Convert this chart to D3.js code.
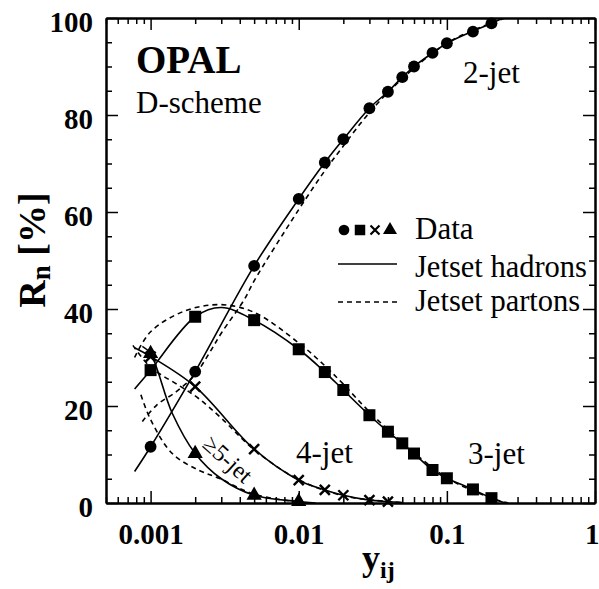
<!DOCTYPE html>
<html>
<head>
<meta charset="utf-8">
<script src="https://cdn.jsdelivr.net/npm/d3@7"></script>
<style>
  body { margin: 0; background: #fff; }
  text { font-family: "Liberation Serif", "Times New Roman", serif; fill: #000; }
</style>
</head>
<body>
<div id="chart"></div>
<script>
"use strict";

// measured points (y_cut, R_n in %)
const ycutData = [0.001, 0.002, 0.005, 0.01, 0.015, 0.02, 0.03, 0.04, 0.05, 0.06, 0.08, 0.1, 0.15, 0.2];
const data2jet = [11.6, 27.1, 48.9, 62.7, 70.2, 75.0, 81.4, 84.8, 87.8, 90.0, 92.8, 94.8, 97.2, 98.9];
const data3jet = [27.4, 38.4, 37.7, 31.7, 27.0, 23.3, 18.1, 14.7, 12.3, 10.2, 6.8, 5.1, 2.8, 1.0];
const ycut4jet = [0.001, 0.002, 0.005, 0.01, 0.015, 0.02, 0.03, 0.04];
const data4jet = [30.2, 24.0, 11.1, 4.7, 2.7, 1.6, 0.6, 0.3];
const ycut5jet = [0.001, 0.002, 0.005, 0.01];
const data5jet = [30.8, 10.2, 1.6, 0.3];

// Jetset hadrons (solid)
const had2X = [0.00078, 0.001, 0.002, 0.005, 0.01, 0.015, 0.02, 0.03, 0.04, 0.05, 0.06, 0.08, 0.1, 0.15, 0.2, 0.24];
const had2Y = [6.5, 11.6, 27.1, 48.9, 62.7, 70.2, 75.0, 81.4, 84.8, 87.8, 90.0, 92.8, 94.8, 97.3, 98.9, 100];
const had3X = [0.00078, 0.001, 0.002, 0.003, 0.005, 0.01, 0.015, 0.02, 0.03, 0.04, 0.05, 0.06, 0.08, 0.1, 0.15, 0.2, 0.25];
const had3Y = [23.5, 27.4, 38.4, 40.3, 37.7, 31.7, 27.0, 23.3, 18.1, 14.7, 12.3, 10.2, 6.8, 5.1, 2.8, 1.0, 0];
const had4X = [0.00078, 0.001, 0.002, 0.005, 0.01, 0.015, 0.02, 0.03, 0.04, 0.05];
const had4Y = [32.0, 30.2, 24.0, 11.1, 4.7, 2.7, 1.6, 0.6, 0.3, 0.1];
const had5X = [0.00088, 0.001, 0.0014, 0.002, 0.003, 0.005, 0.01, 0.013];
const had5Y = [32.3, 30.8, 18.5, 10.2, 5.0, 1.6, 0.3, 0];

// Jetset partons (dashed)
const par2X = [0.00088, 0.0011, 0.0015, 0.002, 0.0025, 0.003, 0.0043, 0.005, 0.01, 0.015, 0.02, 0.03, 0.05, 0.1, 0.2, 0.25];
const par2Y = [16.8, 20.2, 23.0, 26.5, 31.0, 35.0, 42.0, 45.8, 60.5, 68.5, 73.6, 80.5, 87.5, 94.8, 99.0, 100];
const par3X = [0.00078, 0.001, 0.0017, 0.003, 0.005, 0.01, 0.015, 0.02, 0.03, 0.05, 0.1, 0.2, 0.26];
const par3Y = [30.0, 35.3, 39.6, 40.9, 39.3, 33.0, 28.3, 24.5, 18.8, 12.5, 5.2, 1.0, 0];
const par4X = [0.00076, 0.001, 0.0016, 0.0021, 0.003, 0.005, 0.01, 0.02, 0.04, 0.05];
const par4Y = [32.5, 28.0, 24.0, 21.6, 17.5, 11.0, 4.8, 1.5, 0.3, 0.1];
const par5X = [0.00086, 0.001, 0.0014, 0.0021, 0.0029, 0.005, 0.01];
const par5Y = [22.3, 17.2, 10.2, 6.8, 5.1, 1.8, 0.2];

// axis ticks
const xMajor = [0.001, 0.01, 0.1, 1];
const xLabels = ["0.001", "0.01", "0.1", "1"];
const yMajor = [0, 20, 40, 60, 80, 100];

// graph size and margins
const W = 599, H = 589;
const margin = { left: 106, top: 18, right: 4, bottom: 86 },
      w = W - margin.left - margin.right,
      h = H - margin.top - margin.bottom;

const svg = d3.select("#chart")
  .append("svg")
    .attr("width", W)
    .attr("height", H);

const chart = svg.append("g")
    .attr("transform", "translate(" + margin.left + "," + margin.top + ")");

const x = d3.scaleLog().domain([0.0005, 1]).range([0, w]),
      y = d3.scaleLinear().domain([0, 100]).range([h, 0]);

const xMinor = x.ticks().filter(function(v) { return xMajor.indexOf(v) < 0; });
const yMinor = d3.range(0, 101, 5).filter(function(v) { return v % 20 !== 0; });

chart.append("clipPath").attr("id", "plot-clip")
  .append("rect").attr("width", w).attr("height", h);

// axes: ticks point inward on all four sides
function styleAxis(g) {
  g.selectAll(".tick line").attr("stroke", "#000").attr("stroke-width", 1.5);
  g.select(".domain").attr("stroke", "#000").attr("stroke-width", 2);
}

chart.append("g")
    .attr("transform", "translate(0," + h + ")")
    .call(d3.axisBottom(x).tickValues(xMinor).tickFormat("").tickSize(-6).tickSizeOuter(0))
    .call(styleAxis);
chart.append("g")
    .attr("class", "x-major")
    .attr("transform", "translate(0," + h + ")")
    .call(d3.axisBottom(x).tickValues(xMajor)
      .tickFormat(function(d, i) { return xLabels[i]; })
      .tickSize(-12).tickSizeOuter(0).tickPadding(20))
    .call(styleAxis);
chart.append("g")
    .call(d3.axisTop(x).tickValues(xMinor).tickFormat("").tickSize(-6).tickSizeOuter(0))
    .call(styleAxis);
chart.append("g")
    .call(d3.axisTop(x).tickValues(xMajor).tickFormat("").tickSize(-12).tickSizeOuter(0))
    .call(styleAxis);

chart.append("g")
    .call(d3.axisLeft(y).tickValues(yMinor).tickFormat("").tickSize(-6).tickSizeOuter(0))
    .call(styleAxis);
chart.append("g")
    .attr("class", "y-major")
    .call(d3.axisLeft(y).tickValues(yMajor).tickSize(-12).tickSizeOuter(0).tickPadding(13))
    .call(styleAxis);
chart.append("g")
    .attr("transform", "translate(" + w + ",0)")
    .call(d3.axisRight(y).tickValues(yMinor).tickFormat("").tickSize(-6).tickSizeOuter(0))
    .call(styleAxis);
chart.append("g")
    .attr("transform", "translate(" + w + ",0)")
    .call(d3.axisRight(y).tickValues(yMajor).tickFormat("").tickSize(-12).tickSizeOuter(0))
    .call(styleAxis);

chart.selectAll(".x-major text, .y-major text")
    .style("font-family", "Liberation Serif, serif")
    .style("font-weight", "bold")
    .style("font-size", "29px");
chart.selectAll(".y-major text").attr("dy", "0.45em");
// the last decade label sits at the right edge of the picture
chart.selectAll(".x-major text").filter(function(d) { return d === 1; })
    .attr("text-anchor", "end").attr("x", 4);

// curves
const line = d3.line()
    .x(function(d) { return x(d[0]); })
    .y(function(d) { return y(d[1]); })
    .curve(d3.curveCatmullRom.alpha(0.5));

const curves = chart.append("g").attr("clip-path", "url(#plot-clip)");
[[had2X, had2Y], [had3X, had3Y], [had4X, had4Y], [had5X, had5Y]].forEach(function(c) {
  curves.append("path")
      .attr("d", line(d3.zip(c[0], c[1])))
      .attr("fill", "none")
      .attr("stroke", "#000")
      .attr("stroke-width", 1.6);
});
[[par2X, par2Y], [par3X, par3Y], [par4X, par4Y], [par5X, par5Y]].forEach(function(c) {
  curves.append("path")
      .attr("d", line(d3.zip(c[0], c[1])))
      .attr("fill", "none")
      .attr("stroke", "#000")
      .attr("stroke-width", 1.6)
      .attr("stroke-dasharray", "5,4");
});

// markers
const circleSym = d3.symbol().type(d3.symbolCircle).size(110),
      squareSym = d3.symbol().type(d3.symbolSquare).size(144),
      triSym = d3.symbol().type(d3.symbolTriangle).size(100);
const crossPath = "M-5,-5L5,5M-5,5L5,-5";

const marks = chart.append("g");
marks.selectAll(".c2")
  .data(d3.zip(ycutData, data2jet))
  .join("path")
    .attr("d", circleSym())
    .attr("transform", function(d) { return "translate(" + x(d[0]) + "," + y(d[1]) + ")"; });
marks.selectAll(".s3")
  .data(d3.zip(ycutData, data3jet))
  .join("path")
    .attr("d", squareSym())
    .attr("transform", function(d) { return "translate(" + x(d[0]) + "," + y(d[1]) + ")"; });
marks.selectAll(".x4")
  .data(d3.zip(ycut4jet, data4jet))
  .join("path")
    .attr("d", crossPath)
    .attr("stroke", "#000")
    .attr("stroke-width", 2.4)
    .attr("transform", function(d) { return "translate(" + x(d[0]) + "," + y(d[1]) + ")"; });
marks.selectAll(".t5")
  .data(d3.zip(ycut5jet, data5jet))
  .join("path")
    .attr("d", triSym())
    .attr("transform", function(d) { return "translate(" + x(d[0]) + "," + y(d[1]) + ")"; });

// labels inside the frame
function label(txt, px, py, size, weight) {
  return svg.append("text")
      .attr("x", px).attr("y", py)
      .style("font-size", size + "px")
      .style("font-weight", weight || "normal")
      .text(txt);
}
label("OPAL", 136, 73, 39, "bold");
label("D-scheme", 136, 113, 31);
label("2-jet", 463, 83, 31);
label("3-jet", 468, 464, 31);
label("4-jet", 296, 463, 31);
svg.append("text")
    .attr("transform", "translate(228,459) rotate(42)")
    .attr("text-anchor", "middle")
    .attr("dy", "0.35em")
    .style("font-size", "24px")
    .text("≥5-jet");

// legend
const lg = svg.append("g");
[[344, circleSym.size(90)()], [360, squareSym.size(110)()], [390, triSym.size(85)()]].forEach(function(m) {
  lg.append("path").attr("d", m[1]).attr("transform", "translate(" + m[0] + ",230)");
});
lg.append("path").attr("d", crossPath).attr("stroke", "#000").attr("stroke-width", 2.4)
    .attr("transform", "translate(375,230) scale(0.9)");
lg.append("line").attr("x1", 338).attr("x2", 397).attr("y1", 264).attr("y2", 264)
    .attr("stroke", "#000").attr("stroke-width", 1.6);
lg.append("line").attr("x1", 338).attr("x2", 400).attr("y1", 302).attr("y2", 302)
    .attr("stroke", "#000").attr("stroke-width", 1.6).attr("stroke-dasharray", "5,4");
label("Data", 415, 239, 31);
label("Jetset hadrons", 415, 277, 30.5);
label("Jetset partons", 415, 311, 30.5);

// axis titles
const yt = svg.append("text")
    .attr("transform", "translate(45,250) rotate(-90)")
    .attr("text-anchor", "middle")
    .style("font-weight", "bold")
    .style("font-size", "38px");
yt.append("tspan").text("R");
yt.append("tspan").attr("dy", 5).style("font-size", "27px").text("n");
yt.append("tspan").attr("dy", -5).text(" [%]");

const xt = svg.append("text")
    .attr("x", 362).attr("y", 570)
    .style("font-weight", "bold")
    .style("font-size", "36px");
xt.append("tspan").text("y");
xt.append("tspan").attr("dy", 8).style("font-size", "24px").text("ij");
</script>
</body>
</html>
